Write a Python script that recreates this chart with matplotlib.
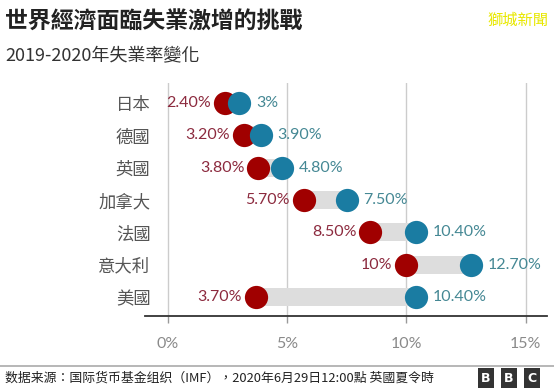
import matplotlib.pyplot as plt

plt.rcParams['font.family'] = ['Noto Sans CJK TC', 'DejaVu Sans']

countries = ['日本', '德國', '英國', '加拿大', '法國', '意大利', '美國']
rate_2019 = [2.4, 3.2, 3.8, 5.7, 8.5, 10.0, 3.7]
rate_2020 = [3.0, 3.9, 4.8, 7.5, 10.4, 12.7, 10.4]
labels_2019 = ['2.40%', '3.20%', '3.80%', '5.70%', '8.50%', '10%', '3.70%']
labels_2020 = ['3%', '3.90%', '4.80%', '7.50%', '10.40%', '12.70%', '10.40%']
xticks = [0, 5, 10, 15]
xtick_labels = ['0%', '5%', '10%', '15%']

red = '#a00000'
blue = '#1a7ca2'
red_txt = '#8c2a3e'
blue_txt = '#458894'

fig = plt.figure(figsize=(5.54, 3.88), dpi=100)
ax = fig.add_axes([145 / 554, 1 - 316 / 388, 402 / 554, 233 / 388])

ypos = list(range(len(countries)))

for y, a, b in zip(ypos, rate_2019, rate_2020):
    ax.barh(y, b - a, left=a, height=0.56, color='#dddddd', zorder=1)

ax.scatter(rate_2019, ypos, s=280, color=red, zorder=3, linewidths=0)
ax.scatter(rate_2020, ypos, s=280, color=blue, zorder=4, linewidths=0)

for y, a, b, la, lb in zip(ypos, rate_2019, rate_2020, labels_2019, labels_2020):
    ax.annotate(la, (a, y), xytext=(-10, 0), textcoords='offset points',
                ha='right', va='center', fontsize=11.5, color=red_txt,
                family=['Lato', 'DejaVu Sans'])
    ax.annotate(lb, (b, y), xytext=(12, 0), textcoords='offset points',
                ha='left', va='center', fontsize=11.5, color=blue_txt,
                family=['Lato', 'DejaVu Sans'])

ax.set_xlim(-0.95, 15.9)
ax.set_ylim(6.59, -0.62)
ax.set_yticks(ypos)
ax.set_yticklabels(countries, fontsize=12.5, color='#555555')
ax.set_xticks(xticks)
ax.set_xticklabels(xtick_labels, fontsize=11.5, color='#8a8a8a',
                   family=['Lato', 'DejaVu Sans'])
ax.tick_params(axis='y', length=0, pad=-4)
ax.tick_params(axis='x', length=5, width=1, color='#999999', pad=10)
ax.grid(axis='x', color='#cccccc', linewidth=1, zorder=0)
ax.set_axisbelow(True)
for side in ['top', 'right', 'left']:
    ax.spines[side].set_visible(False)
ax.spines['bottom'].set_color('#333333')
ax.spines['bottom'].set_linewidth(1.3)

fig.text(5 / 554, 1 - 22 / 388, '世界經濟面臨失業激增的挑戰', fontsize=16.5,
         fontweight='bold', color='#222222', va='center', ha='left')
fig.text(5 / 554, 1 - 55 / 388, '2019-2020年失業率變化', fontsize=13,
         color='#333333', va='center', ha='left')
fig.text(548 / 554, 1 - 20 / 388, '獅城新聞', fontsize=11, color='#e8e800',
         va='center', ha='right')

fig.add_artist(plt.Line2D([0, 1], [1 - 366 / 388, 1 - 366 / 388],
                          color='#aaaaaa', linewidth=1.2))
fig.text(5 / 554, 1 - 378 / 388,
         '数据来源：国际货币基金组织（IMF），2020年6月29日12:00點 英國夏令時',
         fontsize=9.3, color='#222222', va='center', ha='left')

for i, letter in enumerate('BBC'):
    fig.text((486 + i * 23) / 554, 1 - 378 / 388, letter, fontsize=9,
             fontweight='bold', color='white', ha='center', va='center',
             family=['DejaVu Sans'],
             bbox=dict(boxstyle='square,pad=0.25', facecolor='#333333',
                       edgecolor='none'))

fig.savefig('out.png', dpi=100)
